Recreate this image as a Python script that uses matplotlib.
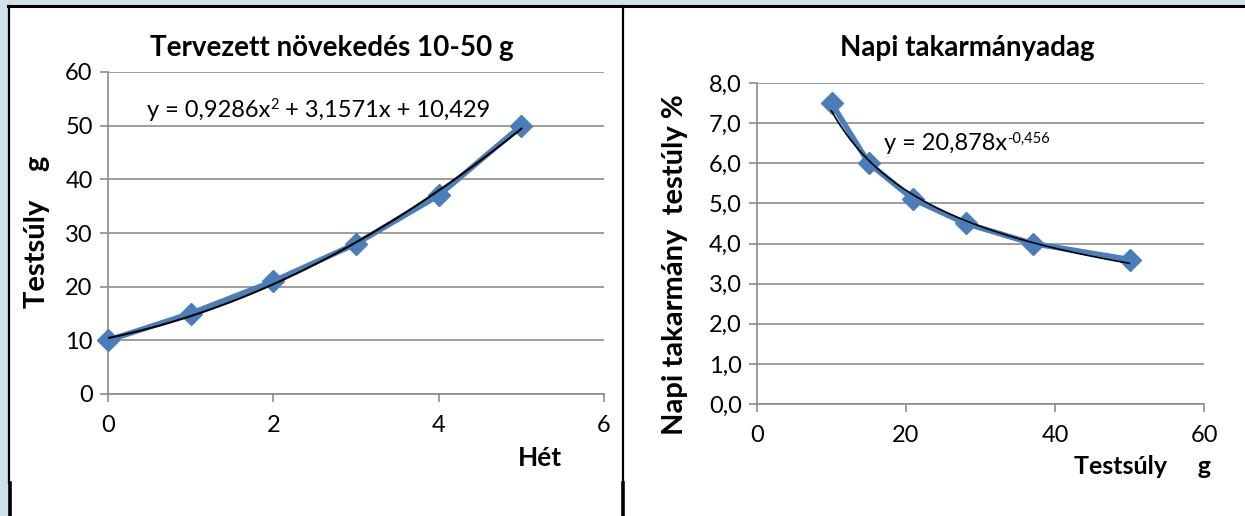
import numpy as np
import matplotlib
matplotlib.use("Agg")
import matplotlib.pyplot as plt
from matplotlib.lines import Line2D
from matplotlib.patches import Rectangle

plt.rcParams['font.family'] = ['Lato', 'DejaVu Sans']

# Data
weeks = [0, 1, 2, 3, 4, 5]
weight = [10, 15, 21, 28, 37, 50]
feed_x = [10, 15, 21, 28, 37, 50]
feed_pct = [7.5, 6.0, 5.1, 4.5, 4.0, 3.6]
quad_coef = [0.9286, 3.1571, 10.429]
pow_coef = [20.878, -0.456]

W, H = 1245, 516
fig = plt.figure(figsize=(W / 100, H / 100), dpi=100)
renderer = fig.canvas.get_renderer()

def fx(px):
    return px / W

def fy(py):
    return 1 - py / H

# background decoration
fig.patches.append(Rectangle((0, 0), 1, 1, transform=fig.transFigure, color='#d0e1ea', zorder=-3))
fig.patches.append(Rectangle((fx(9), 0), 1, fy(6), transform=fig.transFigure, color='white', zorder=-2))
for ln in [
    Line2D([fx(8), 1], [fy(6), fy(6)], lw=2.2, color='black'),
    Line2D([fx(8.5), fx(8.5)], [fy(6), fy(483)], lw=1.6, color='black'),
    Line2D([fx(9.5), fx(9.5)], [fy(483), 0], lw=2.6, color='black'),
    Line2D([fx(623), fx(623)], [fy(6), fy(483)], lw=1.6, color='black'),
    Line2D([fx(622.5), fx(622.5)], [fy(483), 0], lw=2.6, color='black'),
]:
    ln.set_transform(fig.transFigure)
    fig.lines.append(ln)

blue = '#4a7ebb'
grid_c = '#8c8c8c'
TICK = 17
EQ = 17

def style(ax):
    for s in ['top', 'right']:
        ax.spines[s].set_visible(False)
    for s in ['left', 'bottom']:
        ax.spines[s].set_color(grid_c)
        ax.spines[s].set_linewidth(1.2)
    ax.tick_params(axis='both', colors=grid_c, length=6, width=1.2, labelsize=TICK, labelcolor='black')
    ax.tick_params(axis='x', pad=9)
    ax.tick_params(axis='y', pad=5)
    ax.yaxis.grid(True, color=grid_c, lw=1.2)
    ax.set_axisbelow(True)

def eq_text(ax, x, y, base, parts):
    """parts: list of (text, is_superscript)"""
    t = ax.text(x, y, base, transform=ax.transAxes, fontsize=EQ, va='baseline', ha='left')
    prev = t
    inv = fig.transFigure.inverted()
    base_y = ax.transAxes.transform((x, y))[1]
    for txt, sup in parts:
        fig.canvas.draw()
        bb = prev.get_window_extent(renderer)
        x1, _ = inv.transform((bb.x1, bb.y0))
        dy = 8 if sup else 0
        _, yf = inv.transform((0, base_y + dy))
        prev = fig.text(x1, yf, txt, fontsize=(EQ * 0.62 if sup else EQ), va='baseline', ha='left')
    return t

# Left chart
ax1 = fig.add_axes([fx(108), fy(394), fx(604) - fx(108), fy(72) - fy(394)])
style(ax1)
ax1.set_xlim(0, 6)
ax1.set_ylim(0, 60)
ax1.set_xticks([0, 2, 4, 6])
ax1.set_yticks(range(0, 61, 10))
ax1.plot(weeks, weight, color=blue, lw=4, marker='D', ms=11, zorder=3, clip_on=False)
xt = np.linspace(0, 5, 100)
ax1.plot(xt, np.polyval(quad_coef, xt), color='black', lw=1.5, zorder=4)
eq_text(ax1, 0.078, 0.86, 'y = 0,9286x', [('2', True), (' + 3,1571x + 10,429', False)])
fig.text(fx(332), fy(48), 'Tervezett növekedés 10-50 g', fontsize=20, fontweight='bold',
         ha='center', va='center')
fig.text(fx(540), fy(458), 'Hét', fontsize=19, fontweight='bold', ha='center', va='center')
fig.text(fx(37), fy(232), 'Testsúly    g', fontsize=21, fontweight='bold', rotation=90,
         ha='center', va='center')

# Right chart
ax2 = fig.add_axes([fx(757), fy(404), fx(1204) - fx(757), fy(83) - fy(404)])
style(ax2)
ax2.set_xlim(0, 60)
ax2.set_ylim(0, 8)
ax2.set_xticks([0, 20, 40, 60])
ax2.set_yticks(np.arange(0, 8.01, 1))
ax2.set_yticklabels([f'{v:.1f}'.replace('.', ',') for v in np.arange(0, 8.01, 1)])
ax2.plot(feed_x, feed_pct, color=blue, lw=4, marker='D', ms=11, zorder=3, clip_on=False)
xp = np.linspace(10, 50, 100)
ax2.plot(xp, pow_coef[0] * xp ** pow_coef[1], color='black', lw=1.2, zorder=4)
eq_text(ax2, 0.285, 0.79, 'y = 20,878x', [('-0,456', True)])
fig.text(fx(967), fy(48), 'Napi takarmányadag', fontsize=20, fontweight='bold',
         ha='center', va='center')
fig.text(fx(1143), fy(466), 'Testsúly     g', fontsize=18, fontweight='bold', ha='center', va='center')
fig.text(fx(675), fy(265), 'Napi takarmány  testúly %', fontsize=21, fontweight='bold', rotation=90,
         ha='center', va='center')

fig.savefig('out.png', dpi=100)
